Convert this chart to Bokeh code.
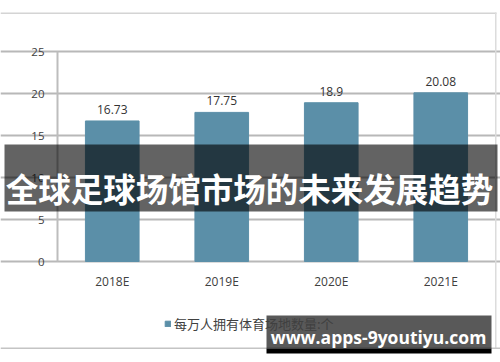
from bokeh.plotting import figure
from bokeh.models import ColumnDataSource, Range1d, BoxAnnotation, Label, Legend, LegendItem, FixedTicker
from bokeh.core.properties import value
from bokeh.embed import file_html
from bokeh.resources import INLINE

categories = ["2018E", "2019E", "2020E", "2021E"]
values = [16.73, 17.75, 18.9, 20.08]
series_name = "每万人拥有体育场地数量:个"
y_ticks = [0, 5, 10, 15, 20, 25]
title_text = "全球足球场馆市场的未来发展趋势"
watermark = "www.apps-9youtiyu.com"

BAR = "#5b8fa8"
W, H = 500, 362
# plot area inside the picture (pixels)
PX0, PX1, PY0, PY1 = 57, 495, 51, 261
n = len(categories)
xs = list(range(n))
px_per_cat = (PX1 - PX0) / n
px_per_unit = (PY1 - PY0) / 25.0
x_start = -0.5 - PX0 / px_per_cat
x_end = n - 0.5 + (W - PX1) / px_per_cat
y_start = -(H - PY1) / px_per_unit
y_end = 25 + PY0 / px_per_unit

src = ColumnDataSource(dict(x=xs, val=values, lab=[str(v) for v in values]))

p = figure(width=W, height=H, x_range=Range1d(x_start, x_end), y_range=Range1d(y_start, y_end),
           output_backend="svg", toolbar_location=None, min_border=0)
p.outline_line_color = None
p.background_fill_color = "white"
p.border_fill_color = "white"

r = p.vbar(x="x", top="val", width=0.49, source=src, color=BAR, line_color=BAR)
p.text(x="x", y="val", text="lab", source=src, text_align="center", text_baseline="bottom",
       y_offset=-7, text_font=value("Open Sans"), text_font_size="12px", text_color="#333333")

yax = p.yaxis[0]
yax.fixed_location = -0.5
yax.bounds = (0, 25)
yax.ticker = FixedTicker(ticks=y_ticks)
yax.major_tick_line_color = None
yax.minor_tick_line_color = None
yax.major_tick_out = 0
yax.axis_line_color = "#bdbdbd"
yax.axis_line_width = 2
yax.major_label_text_font = "Open Sans"
yax.major_label_text_font_size = "11.5px"
yax.major_label_text_color = "#404040"
yax.major_label_standoff = 13

xax = p.xaxis[0]
xax.fixed_location = 0
xax.ticker = FixedTicker(ticks=xs)
xax.major_label_overrides = {i: c for i, c in zip(xs, categories)}
xax.major_tick_line_color = None
xax.minor_tick_line_color = None
xax.major_tick_out = 0
xax.axis_line_color = None
xax.major_label_text_font = "Open Sans"
xax.major_label_text_font_size = "12px"
xax.major_label_text_color = "#404040"
xax.major_label_standoff = 11

p.xgrid.grid_line_color = None
p.ygrid.grid_line_color = "#b8b8b8"
p.ygrid.grid_line_width = 2
p.ygrid.bounds = (-0.5, n - 0.5)

legend = Legend(items=[LegendItem(label=series_name, renderers=[r])], location=(164, 29),
                orientation="horizontal", background_fill_alpha=0, border_line_color=None,
                label_text_font="Noto Sans CJK SC", label_text_font_size="13px",
                label_text_color="#404040", glyph_width=7, glyph_height=7, label_standoff=3,
                label_height=14, padding=0, margin=0, spacing=0)
p.add_layout(legend, "center")

def box(l, rgt, t, b, color, alpha):
    p.add_layout(BoxAnnotation(left=l, right=rgt, top=t, bottom=b, left_units="canvas",
                               right_units="canvas", top_units="canvas", bottom_units="canvas",
                               fill_color=color, fill_alpha=alpha, line_color=None, level="overlay"))

# picture frame rules
box(0, 496, 12, 13.5, "#d4d4d4", 1)
box(494.5, 496, 12, 348, "#dcdcdc", 1)
box(0, 500, 347, 348.5, "#c4c4c4", 1)

# dark overlay band with title
box(4, 497, 144, 211, "black", 0.61)
p.add_layout(Label(x=249, y=187, x_units="canvas", y_units="canvas", text=title_text,
                   text_align="center", text_baseline="middle", text_font="Noto Sans CJK SC",
                   text_font_style="bold", text_font_size="32.5px", text_color="white", level="overlay"))

# watermark
box(266, 491, 315, 348, "black", 0.65)
box(266, 491, 348, 353, "black", 1)
p.add_layout(Label(x=378, y=336, x_units="canvas", y_units="canvas", text=watermark,
                   text_align="center", text_baseline="middle", text_font="Open Sans",
                   text_font_style="bold", text_font_size="17.5px", text_color="white", level="overlay"))

open("out.html", "w").write(file_html(p, INLINE))
